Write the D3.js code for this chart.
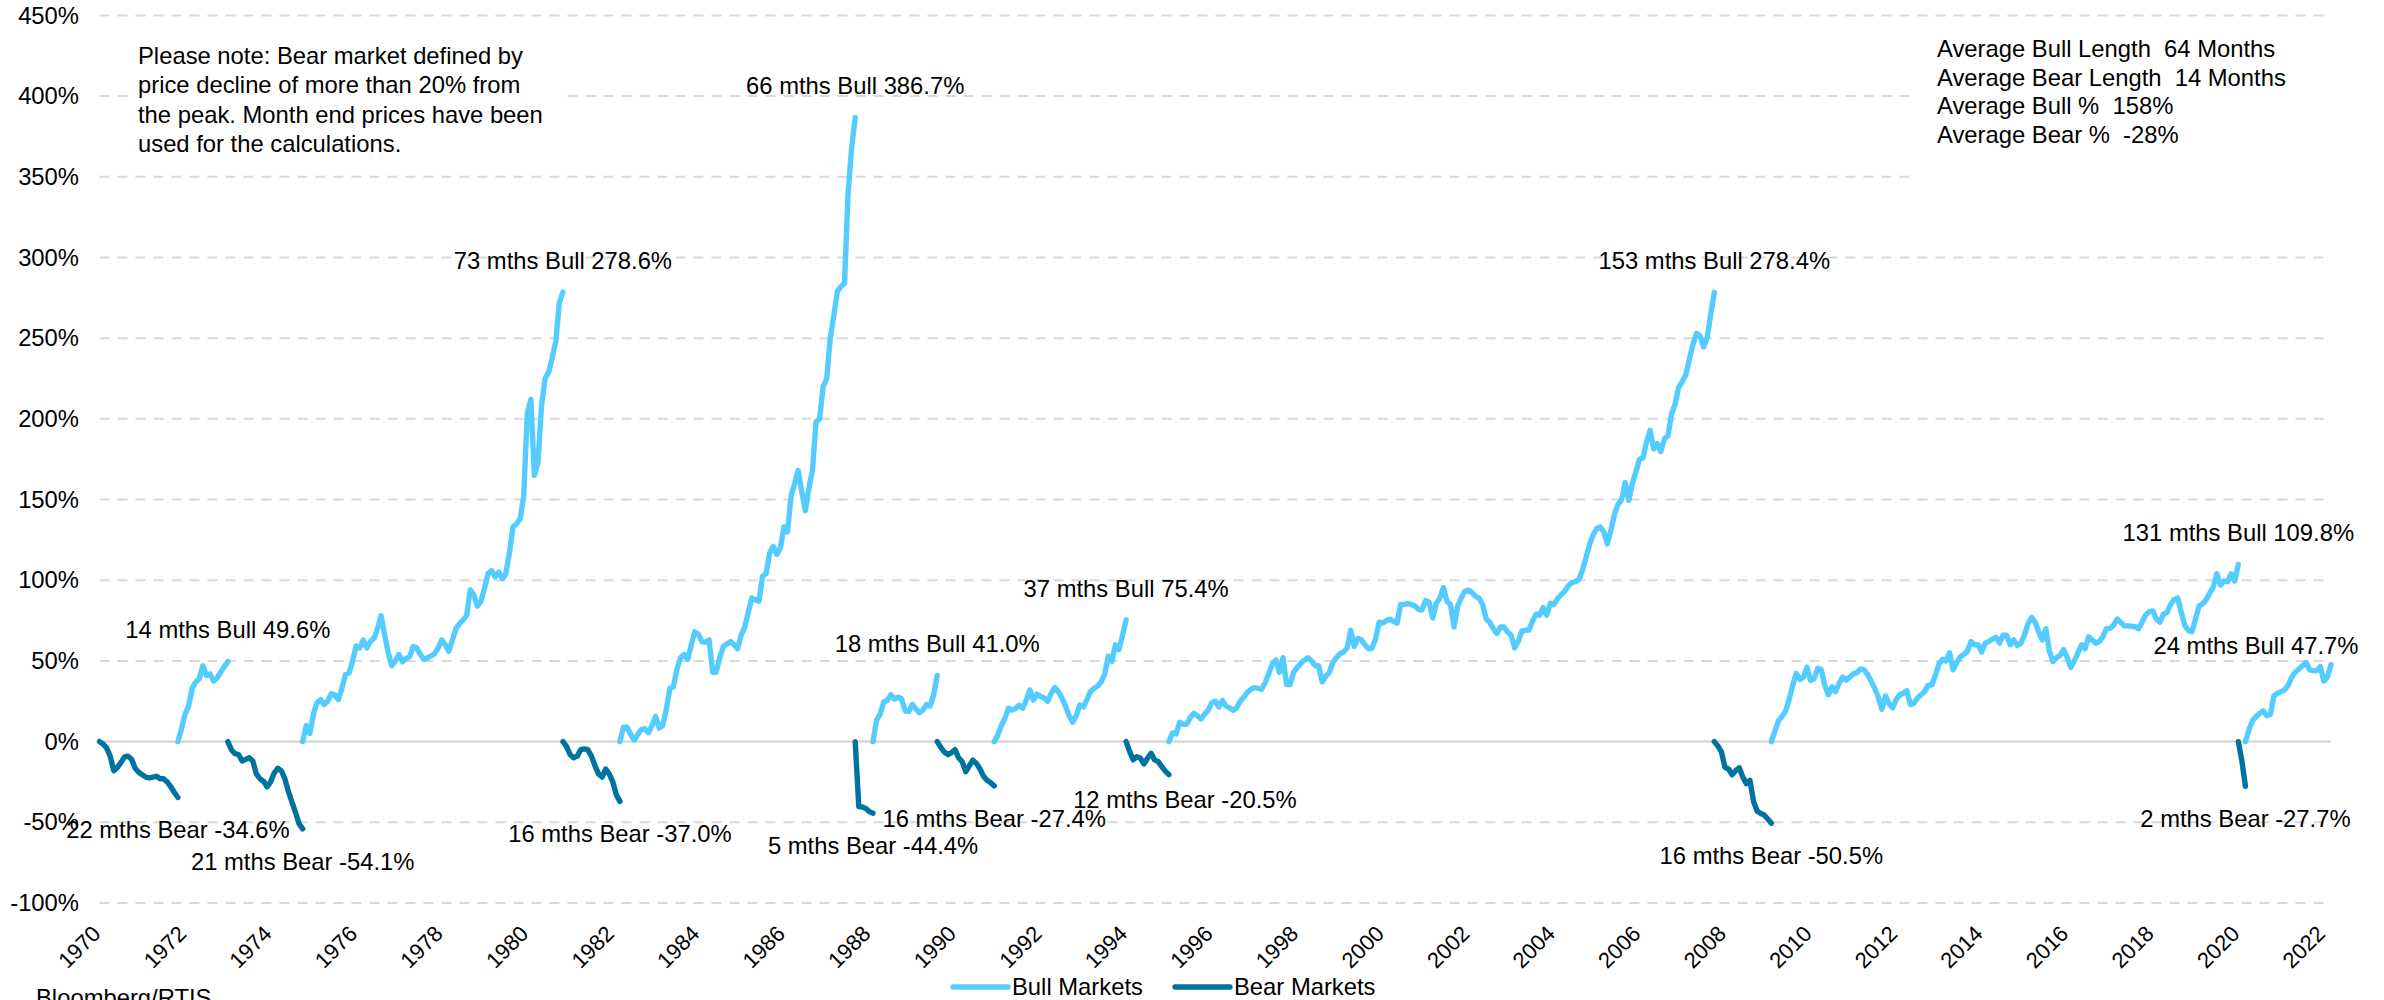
<!DOCTYPE html>
<html>
<head>
<meta charset="utf-8">
<script src="https://cdn.jsdelivr.net/npm/d3@7/dist/d3.min.js"></script>
<style>
  body { margin: 0; background: #fff; }
  svg text { font-family: "Liberation Sans", Arial, sans-serif; fill: #000; }
</style>
</head>
<body>
<div id="chart"></div>
<script>
// Bull / bear runs of the index since Jan 1970, in order
const segType   = ["Bear","Bull","Bear","Bull","Bear","Bull","Bear","Bull","Bear","Bull","Bear","Bull","Bear","Bull","Bear","Bull"];
const segMonths = [22, 14, 21, 73, 16, 66, 5, 18, 16, 37, 12, 153, 16, 131, 2, 24];
const segChange = [-34.6, 49.6, -54.1, 278.6, -37.0, 386.7, -44.4, 41.0, -27.4, 75.4, -20.5, 278.4, -50.5, 109.8, -27.7, 47.7];

// month-end % change from the start of each run
const bear1970 = [0,-1.5,-4,-9,-18,-16,-13,-9.5,-9,-11,-16.5,-19,-20.5,-22,-22.5,-22,-21.5,-23,-23,-25,-28,-31.5,-34.6];
const bull1971 = [0,8,17,22,33,37,39,47,41,42,37.5,39.5,43,46.5,49.6];
const bear1973 = [0,-5,-7.5,-8,-12,-11,-10,-12,-20,-23,-24.5,-28,-25,-19.5,-16.5,-18,-23,-31,-37.5,-44,-51,-54.1];
const bull1974 = [0,10,5,17,24,26,23,25,29.7,29,26,33,41.5,42.5,50,59.3,58,63,58,62,64,70,78,66,55,47,50,54,49.5,51.5,
                  52.5,59,58,54,51,52,53,54.5,58,63,60,56,63,70,73,75.5,78,94,91,84,87,95,104,106,102,105,101,104,117,133,
                  135,138,152,203,212,165,173,208,225,229,238,248,272,278.6];
const bear1981 = [0,-3,-8,-10,-9,-5,-4.5,-5,-9,-15,-20,-22,-17,-20,-25,-33,-37.0];
const bull1982 = [0,9,9,4.5,1,4.5,7.5,8,5.5,10,15.5,8.5,10,20,33,34,45,52,54,51,60,68,66.5,62,61.5,63,43,43,52,58.8,
                  60.5,62,60,57.5,66,71,80,89,88,87,102.4,104,117,121,116,120,133,130,152,160,168,155,143,157,168,198,200,220,225,250,
                  264,279,282,284,340,368,386.7];
const bear1987 = [0,-40.3,-40.5,-41.5,-43.5,-44.4];
const bull1988 = [0,13.4,17,24.6,25.5,29,26.3,27.5,26.6,19,18.6,23,20.2,18,19.6,23,22,29,41.0];
const bear1989 = [0,-3.5,-6.5,-8,-6.8,-5,-10,-12.4,-18.6,-15,-11.5,-13.5,-17,-21.5,-24,-25.5,-27.4];
const bull1991 = [0,4,10,14.5,20.7,19.6,20.5,22.5,20.7,25.8,32,25.8,29.4,28,27,25,30,33.5,31,27,
                  22,16,12,16,22.7,21.5,26,31,33,34.5,37,42,53,49.6,60,57,66,75.4];
const bear1994 = [0,-6.2,-11.3,-9.3,-10.3,-13.8,-10.3,-7.2,-11.3,-12.4,-15.5,-18.3,-20.5];
const bull1995 = [0,5.4,4.7,12,10.8,10.8,15,17.5,16,14, 17,19.4,24,25,21.5,25.5,22,21,19.5,21,
                  25,27.5,30.5,32.5,33.4,33,32.4,36.5,42,48, 50.5,43,52,35.4,35.4,43,46,48.5,50.5,52,
                  50,47,47,37,40.3,43,49,52,54.5,55.5, 58,69,59,64,63,60,57.5,57.9,64,74,
                  73.4,75,75.9,74.5,73.4,85,85,85.5,85,84, 82,81.5,87.4,86.4,76.6,85.7,88.9,95.5,86.9,84.9,
                  71,84,89,93,94,92.3,90,89,85,76, 74,70,67,71,71,68,66,58,62,68.5,
                  69,69.2,74.6,79,78.3,83,78.3,85.7,84.9,88.5, 91,93,96.5,98.5,99.2,100.4,106,114,122,128,
                  132,133,130,122.5,131,141,147,150,160.6,149.5, 160,167,175,175.8,186,193,181.4,184.6,179.7,187.6,
                  189.5,203,209,219.5,223,227.3,237,246,253,251.4, 244.5,250.2,264.9,278.4];
const bear2007 = [0,-2.7,-6.4,-16,-17,-20.5,-18,-16.2,-22,-26,-24,-37,-43,-44.5,-45.5,-48,-50.5];
const bull2009 = [0,6.5,13,15.5,19,26,35,42.3,38.5,40, 46,38,39,45.5,44.5,35,29,34,31,36,
                  40,38,40,42,42.7,45,44.5,41.5,37.5,33, 27.5,20,28.3,23.5,21,26,29,30,31.6,23,
                  23.7,27,29,31,35,35,41,48,51,50, 55,44.5,49,52.5,54,56,62,60,60,55.5,
                  61,62,63.5,64.6,61,66,66,60,63,59.5, 61,66,73,77,74,68,63,70,56,49.6,
                  52,53.5,57,52,46,50,55,60,57.5,65, 63,61,62,65,70,70.2,72,76,74,71.7,
                  71.7,71.5,71.2,70,74,78.5,80.5,81,76,74, 79,80,85,88,89,80,72,68.8,68.1,76,
                  84,85.5,88,92,96,104,97,99.5,99.1,104, 99.5,109.8];
const bear2020 = [0,-12,-27.7];
const bull2020 = [0,7.5,13,15.5,17.5,19,16,17,28.5,30,31,32,35,40,43,45,47,49,44.5,44,44,46.5,37.5,40,47.7];

const segValues = [bear1970, bull1971, bear1973, bull1974, bear1981, bull1982, bear1987, bull1988,
                   bear1989, bull1991, bear1994, bull1995, bear2007, bull2009, bear2020, bull2020];

const yTicks = d3.range(-100, 451, 50);
const yearTicks = d3.range(1970, 2023, 2);

const noteLines = ["Please note: Bear market defined by", "price decline of more than 20% from",
                   "the peak. Month end prices have been", "used for the calculations."];
const avgLines = ["Average Bull Length  64 Months", "Average Bear Length  14 Months",
                  "Average Bull %  158%", "Average Bear %  -28%"];
const legendItems = ["Bull", "Bear"];
const sourceText = "Bloomberg/RTIS";

// layout
const width = 2384, height = 1000;
const plot = {left: 99.5, right: 2331, top: 15.4, bottom: 903};
const colors = {Bull: "#55CCFF", Bear: "#0072A0"};
const fontSize = 23.8;
// hand moved labels in the original (dx, dy)
const labelNudge = {10: [16, -8], 15: [-75, 13]};

const svg = d3.select("#chart").append("svg")
  .attr("width", width)
  .attr("height", height);

// start month of every run
const segStart = [];
segMonths.reduce((acc, n, i) => { segStart[i] = acc; return acc + n; }, 0);
const totalMonths = d3.sum(segMonths);

const x = d3.scaleLinear().domain([0, totalMonths]).range([plot.left, plot.right]);
const y = d3.scaleLinear().domain([-100, 450]).range([plot.bottom, plot.top]);

// gridlines
svg.append("g")
  .selectAll("line")
  .data(yTicks)
  .join("line")
    .attr("x1", plot.left)
    .attr("x2", plot.right)
    .attr("y1", d => y(d))
    .attr("y2", d => y(d))
    .attr("stroke", d => d === 0 ? "#d0d0d0" : "#d9d9d9")
    .attr("stroke-width", 2)
    .attr("stroke-dasharray", d => d === 0 ? null : "10,8");

// y axis labels
const yAxis = svg.append("g")
  .attr("transform", `translate(79,0)`)
  .call(d3.axisLeft(y).tickValues(yTicks).tickFormat(d => d + "%").tickSize(0).tickPadding(0));
yAxis.select(".domain").remove();
yAxis.selectAll("text").attr("font-size", fontSize).style("font-family", null);

// x axis year labels, slanted
const xAxis = svg.append("g")
  .attr("transform", `translate(0,935)`)
  .call(d3.axisBottom(x).tickValues(yearTicks.map(yr => (yr - 1970) * 12))
          .tickFormat(m => 1970 + m / 12).tickSize(0));
xAxis.select(".domain").remove();
xAxis.selectAll("text")
  .attr("x", 0).attr("y", 0).attr("dy", 0)
  .attr("transform", "translate(2,0) rotate(-45)")
  .style("text-anchor", "end")
  .style("font-family", null)
  .attr("font-size", 22);

// white note boxes hide the grid behind them
svg.append("rect").attr("x", 130).attr("y", 30).attr("width", 432).attr("height", 135).attr("fill", "#fff");
svg.append("rect").attr("x", 1913).attr("y", 25).attr("width", 471).attr("height", 175).attr("fill", "#fff");

svg.append("g").selectAll("text")
  .data(noteLines)
  .join("text")
    .attr("x", 138)
    .attr("y", (d, i) => 64 + i * 29.3)
    .attr("font-size", fontSize)
    .text(d => d);

svg.append("g").selectAll("text")
  .data(avgLines)
  .join("text")
    .attr("x", 1937)
    .attr("y", (d, i) => 57 + i * 28.6)
    .attr("font-size", fontSize)
    .style("white-space", "pre")
    .text(d => d);

// the runs
const line = d3.line()
  .x(d => x(d.m))
  .y(d => y(d.v));

svg.append("g").selectAll("path")
  .data(segValues)
  .join("path")
    .attr("d", (vals, i) => line(vals.map((v, k) => ({m: segStart[i] + k, v: v}))))
    .attr("fill", "none")
    .attr("stroke", (vals, i) => colors[segType[i]])
    .attr("stroke-width", 5.4)
    .attr("stroke-linejoin", "round")
    .attr("stroke-linecap", "round");

// run labels at the end of each run
svg.append("g").selectAll("text")
  .data(segValues)
  .join("text")
    .attr("x", (vals, i) => x(segStart[i] + segMonths[i]) + (labelNudge[i] ? labelNudge[i][0] : 0))
    .attr("y", (vals, i) => y(vals[vals.length - 1]) + (segType[i] === "Bull" ? -23.3 : 41)
                             + (labelNudge[i] ? labelNudge[i][1] : 0))
    .attr("text-anchor", "middle")
    .attr("font-size", fontSize)
    .text((vals, i) => `${segMonths[i]} mths ${segType[i]} ${segChange[i].toFixed(1)}%`);

// legend
const legend = svg.append("g").selectAll("g")
  .data(legendItems)
  .join("g")
    .attr("transform", (d, i) => `translate(${953 + i * 222},987)`);
legend.append("line")
  .attr("x1", 0).attr("x2", 55)
  .attr("stroke", d => colors[d])
  .attr("stroke-width", 5.4)
  .attr("stroke-linecap", "round");
legend.append("text")
  .attr("x", 59)
  .attr("y", 8)
  .attr("font-size", fontSize)
  .text(d => d + " Markets");

svg.append("text")
  .attr("x", 36)
  .attr("y", 1006)
  .attr("font-size", fontSize)
  .text(sourceText);
</script>
</body>
</html>
